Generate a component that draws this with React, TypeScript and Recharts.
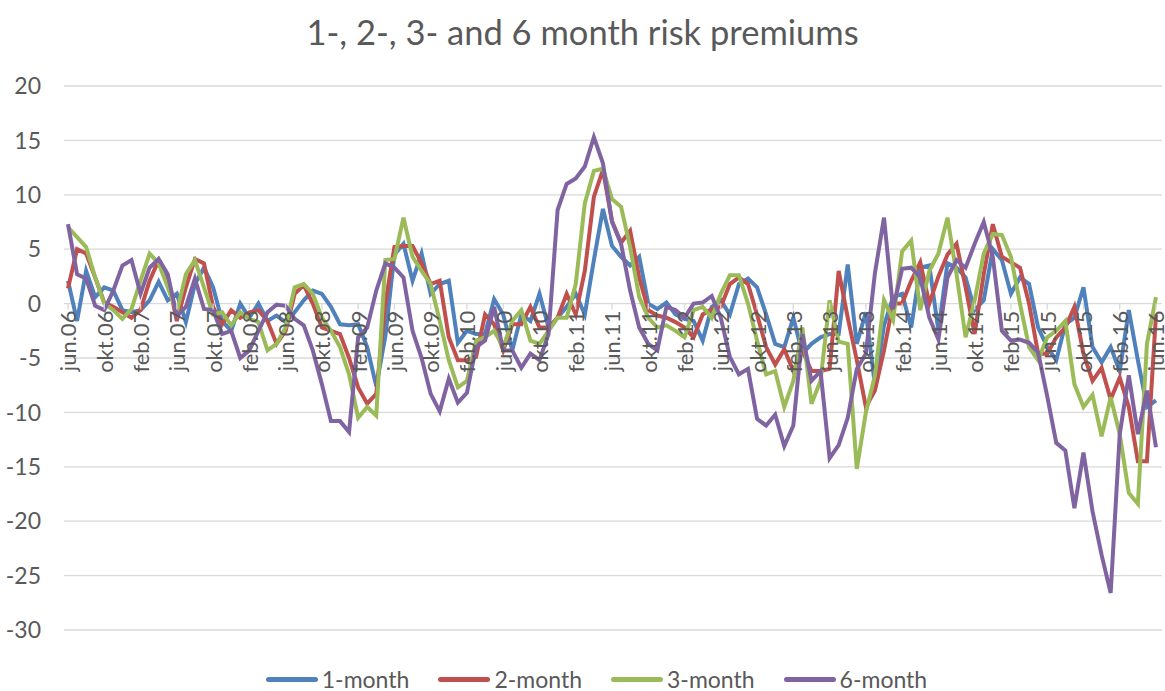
import { LineChart, Line, CartesianGrid, XAxis, YAxis } from 'recharts';

// Monthly risk premiums, jun.06 - jun.16 (121 observations)
const MONTH_NAMES = ['jan', 'feb', 'mar', 'apr', 'mai', 'jun', 'jul', 'aug', 'sep', 'okt', 'nov', 'des'];
const FIRST_MONTH = 5; // jun
const FIRST_YEAR = 6; // 2006
const N_OBS = 121;

const categories: string[] = [];
for (let i = 0; i < N_OBS; i++) {
  const m = (FIRST_MONTH + i) % 12;
  const y = FIRST_YEAR + Math.floor((FIRST_MONTH + i) / 12);
  categories.push(`${MONTH_NAMES[m]}.${String(y).padStart(2, '0')}`);
}

const oneMonth = [
  2.1, -1.6, 3.0, 0.6, 1.5, 1.2, -0.6, -0.8, -0.6, 0.3, 2.0, 0.3, 0.9, -1.7, 1.8, 3.3, 1.5, -1.6, -2.5, 0.0,
  -1.3, 0.0, -1.6, -1.1, -1.7, -0.8, 0.3, 1.2, 0.9, -0.3, -1.9, -2.0, -1.9, -4.0, -7.6, -3.0, 4.5, 5.5, 2.1, 4.6,
  0.9, 1.8, 2.1, -3.6, -2.5, -2.8, -2.8, 0.4, -1.0, -4.3, -1.0, -1.6, 0.9, -2.2, -1.3, -0.3, 0.9, -1.0, 4.0, 8.7,
  5.3, 4.3, 3.5, 4.3, 0.0, -0.5, 0.1, -1.0, -1.4, -1.6, -3.4, -0.3, 0.3, -1.0, 1.8, 2.3, 1.5, -1.0, -3.7, -4.0,
  -1.3, -4.6, -3.7, -3.1, -2.8, -2.8, 3.6, -3.7, -0.8, -7.5, -2.0, 0.6, 0.9, -2.2, 3.3, 3.5, -2.5, 3.7, 3.3, 2.4,
  -0.6, 0.3, 5.0, 4.0, 0.9, 2.4, 1.8, -2.2, -4.0, -5.2, -1.9, -1.3, 1.5, -4.0, -5.4, -4.0, -6.2, -0.6, -5.2, -9.5,
  -8.9,
];

const twoMonth = [
  1.4, 5.0, 4.6, 2.4, 0.1, -0.3, -0.8, -1.3, -0.6, 2.1, 4.0, 2.4, -1.6, 1.5, 4.1, 3.7, -0.3, -1.9, -0.6, -1.3,
  -0.8, -0.6, -1.6, -3.7, -2.5, 0.9, 1.7, 0.0, -2.2, -2.5, -2.8, -5.0, -7.7, -9.2, -8.3, 0.0, 5.2, 5.3, 5.3, 3.7,
  1.8, 2.1, -3.1, -5.2, -5.2, -4.9, -1.0, -1.9, -4.3, -1.9, -1.9, -0.3, -2.2, -2.2, -1.3, 0.9, -1.0, 3.0, 9.8, 12.3,
  7.6, 5.6, 6.7, 2.4, -0.6, -1.1, -1.3, -1.7, -2.2, -3.1, -1.0, -0.5, -0.3, 1.8, 2.4, 1.8, -1.0, -4.0, -5.6, -4.2,
  -6.2, -4.3, -6.2, -6.2, -6.0, 3.0, -1.3, -5.2, -9.5, -8.0, -4.3, 0.0, 0.0, 2.1, 3.8, 0.0, 2.5, 4.5, 5.5, 1.5,
  -2.8, 2.7, 7.3, 4.3, 3.8, 3.3, 0.0, -4.6, -4.6, -3.1, -2.2, -0.3, -4.6, -7.1, -5.9, -8.8, -6.8, -9.5, -14.5, -14.5,
  -1.0,
];

const threeMonth = [
  7.0, 6.1, 5.2, 2.4, 0.0, -0.6, -1.4, -0.5, 2.1, 4.6, 3.7, 1.5, -0.8, 2.7, 4.0, 1.5, -1.0, -0.8, -2.0, -0.8,
  -1.4, -1.7, -4.3, -3.7, -2.2, 1.5, 1.8, 0.9, -1.3, -2.5, -4.0, -6.5, -10.5, -9.5, -10.3, 4.0, 4.1, 7.9, 4.3, 3.0,
  1.8, -1.6, -5.2, -7.7, -7.1, -3.4, -3.1, -2.5, -4.0, -1.6, -0.6, -3.4, -3.7, -2.5, -1.3, -1.3, 1.8, 9.2, 12.2, 12.4,
  9.6, 8.9, 5.2, 0.6, -1.3, -2.2, -2.0, -2.5, -3.1, -0.6, -0.3, -1.3, 0.9, 2.6, 2.6, 0.0, -3.4, -6.5, -6.2, -9.5,
  -7.1, -2.2, -9.2, -7.1, 0.3, -3.5, -3.7, -15.2, -10.0, -6.6, 0.3, -1.5, 4.8, 5.8, -0.6, 3.0, 4.6, 7.9, 2.7, -3.1,
  0.3, 4.6, 6.4, 6.3, 4.3, 0.0, -4.0, -5.2, -3.1, -2.5, -1.6, -7.4, -9.5, -8.4, -12.2, -8.6, -12.0, -17.4, -18.4, -3.7,
  0.6,
];

const sixMonth = [
  7.3, 2.7, 2.3, -0.2, -0.6, 1.2, 3.5, 4.0, 0.9, 3.3, 4.1, 2.7, -1.1, -0.3, 2.3, -0.5, -0.6, -2.8, -2.5, -5.0,
  -4.3, -2.5, -0.8, -0.1, -0.2, -1.4, -2.0, -4.3, -7.4, -10.8, -10.8, -11.8, -3.1, -2.2, 1.2, 3.7, 3.3, 2.4, -2.5, -5.0,
  -8.3, -9.9, -6.9, -9.1, -8.2, -4.0, -3.4, -0.3, -4.3, -4.3, -5.9, -4.6, -5.2, -2.8, 8.6, 11.0, 11.5, 12.6, 15.3, 12.9,
  7.5, 5.5, 1.2, -2.2, -3.7, -4.3, -0.3, -0.6, -1.3, 0.0, 0.1, 0.7, -1.3, -4.9, -6.5, -6.0, -10.6, -11.2, -10.2, -13.1,
  -11.2, -2.8, -7.1, -6.2, -14.2, -13.0, -10.5, -6.0, -4.6, 2.8, 7.9, -0.5, 3.2, 3.3, 2.4, -1.3, -3.3, 2.4, 4.0, 3.3,
  5.5, 7.5, 4.3, -2.5, -3.4, -3.3, -3.6, -4.5, -8.5, -12.8, -13.5, -18.8, -13.7, -19.1, -23.1, -26.6, -12.0, -6.6, -12.0, -8.0,
  -13.2,
];

const yTicks = [-30, -25, -20, -15, -10, -5, 0, 5, 10, 15, 20];

const SERIES = [
  { key: 'm1', name: '1-month', values: oneMonth, color: '#4F81BD' },
  { key: 'm2', name: '2-month', values: twoMonth, color: '#C0504D' },
  { key: 'm3', name: '3-month', values: threeMonth, color: '#9BBB59' },
  { key: 'm6', name: '6-month', values: sixMonth, color: '#8064A2' },
];

const WIDTH = 1165;
const HEIGHT = 691;
const PLOT_TOP = 86;
const PLOT_BOTTOM = 630;
const Y_MIN = -30;
const Y_MAX = 20;
const FONT = 'Lato, "Open Sans", sans-serif';
const TEXT = '#595959';
const GRID = '#D9D9D9';

// Excel crosses the category axis at zero, so draw the labels on the zero line
const ZERO_Y = PLOT_TOP + ((PLOT_BOTTOM - PLOT_TOP) * (Y_MAX - 0)) / (Y_MAX - Y_MIN);

function ZeroTick(props: any) {
  const { x, payload } = props;
  return (
    <g>
      <line x1={x} x2={x} y1={ZERO_Y} y2={ZERO_Y + 6} stroke={GRID} strokeWidth={1.3} />
      <text
        x={x}
        y={ZERO_Y + 7}
        transform={`rotate(-90, ${x}, ${ZERO_Y + 7})`}
        textAnchor="end"
        dominantBaseline="central"
        fill={TEXT}
        fontSize={22}
        fontFamily={FONT}
      >
        {payload.value}
      </text>
    </g>
  );
}

export default function App() {
  const data = categories.map((c, i) => {
    const row: Record<string, string | number> = { month: c };
    SERIES.forEach((s) => {
      row[s.key] = s.values[i];
    });
    return row;
  });

  return (
    <div style={{ position: 'relative', width: WIDTH, height: HEIGHT, fontFamily: FONT, background: '#fff' }}>
      <style>{'body { margin: 0; }'}</style>
      <div
        style={{
          position: 'absolute',
          top: 10,
          left: 0,
          width: WIDTH,
          textAlign: 'center',
          fontSize: 34.5,
          color: TEXT,
          lineHeight: '44px',
        }}
      >
        1-, 2-, 3- and 6 month risk premiums
      </div>
      <LineChart
        width={WIDTH}
        height={HEIGHT}
        data={data}
        margin={{ top: PLOT_TOP, right: 3, bottom: HEIGHT - PLOT_BOTTOM - 1, left: 0 }}
      >
        <CartesianGrid vertical={false} stroke={GRID} strokeWidth={1.3} />
        <XAxis
          dataKey="month"
          interval={3}
          height={1}
          axisLine={false}
          tickLine={false}
          tick={<ZeroTick />}
          padding={{ left: 4, right: 6 }}
        />
        <YAxis
          type="number"
          domain={[Y_MIN, Y_MAX]}
          ticks={yTicks}
          width={64}
          axisLine={false}
          tickLine={false}
          tickMargin={17}
          tick={{ fill: TEXT, fontSize: 23, fontFamily: FONT }}
        />
        {SERIES.map((s) => (
          <Line
            key={s.key}
            type="linear"
            dataKey={s.key}
            name={s.name}
            stroke={s.color}
            strokeWidth={4}
            dot={false}
            isAnimationActive={false}
          />
        ))}
      </LineChart>
      <div
        style={{
          position: 'absolute',
          top: 667,
          left: 28,
          width: WIDTH - 28,
          display: 'flex',
          justifyContent: 'center',
          gap: 29,
          fontSize: 23,
          color: TEXT,
          lineHeight: '24px',
        }}
      >
        {SERIES.map((s) => (
          <div key={s.key} style={{ display: 'flex', alignItems: 'center' }}>
            <span
              style={{
                display: 'inline-block',
                width: 52,
                height: 5,
                borderRadius: 3,
                background: s.color,
                marginRight: 4,
              }}
            />
            <span>{s.name}</span>
          </div>
        ))}
      </div>
    </div>
  );
}
